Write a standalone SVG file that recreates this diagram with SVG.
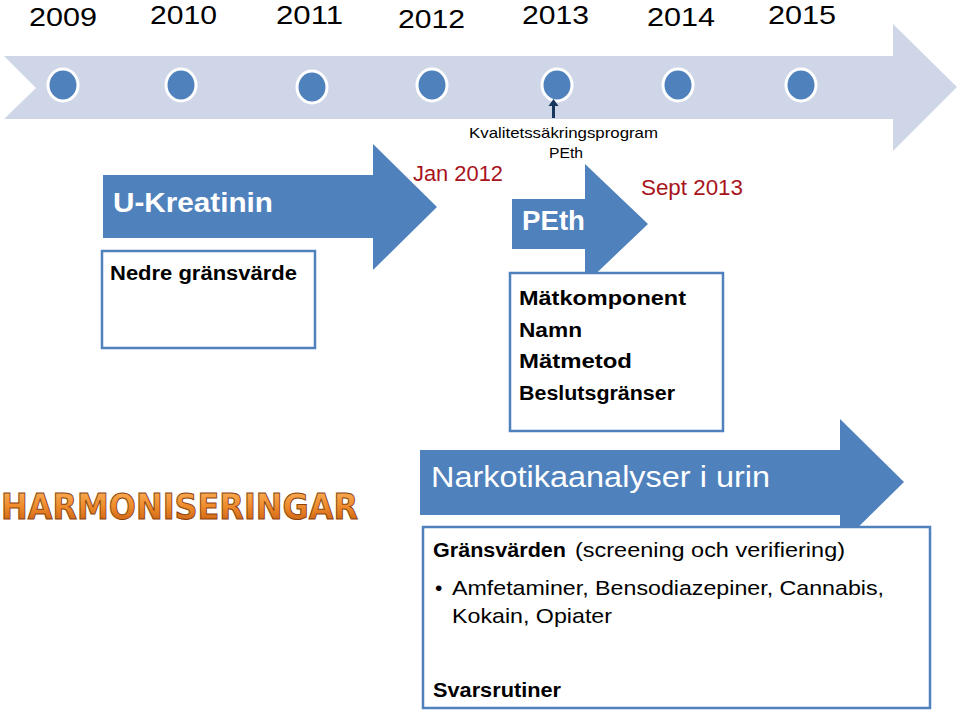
<svg xmlns="http://www.w3.org/2000/svg" width="960" height="712" viewBox="0 0 960 712">
<defs>
<style>
.yr{font-family:"Liberation Sans",Arial,sans-serif;font-size:26px;fill:#000}
.sm{font-family:"Liberation Sans",Arial,sans-serif;font-size:15px;fill:#000}
.red{font-family:"Liberation Sans",Arial,sans-serif;font-size:22px;fill:#a8141c}
.wb{font-family:"Liberation Sans",Arial,sans-serif;font-weight:bold;fill:#fff}
.w{font-family:"Liberation Sans",Arial,sans-serif;fill:#fff}
.bk{font-family:"Liberation Sans",Arial,sans-serif;font-weight:bold;fill:#000;font-size:20px}
.nk{font-family:"Liberation Sans",Arial,sans-serif;fill:#000;font-size:21px}
.arrow{fill:#4f81bd}
.box{fill:#fff;stroke:#4f81bd;stroke-width:2.5}
.dot{fill:#4f81bd;stroke:#fff;stroke-width:3}
</style>
<linearGradient id="og" x1="0" y1="0" x2="0" y2="1">
<stop offset="0" stop-color="#fcb45e"/>
<stop offset="0.5" stop-color="#ee8a2a"/>
<stop offset="1" stop-color="#c2560c"/>
</linearGradient>
</defs>

<g id="timeline">
<path d="M4,56 L893,56 L893,24 L957,87 L893,151 L893,119 L4,119 L36,88 Z" fill="#cfd6e8"/>
<ellipse class="dot" cx="63" cy="85" rx="15" ry="16"/>
<ellipse class="dot" cx="181" cy="85" rx="15" ry="16"/>
<ellipse class="dot" cx="312" cy="87" rx="15" ry="16"/>
<ellipse class="dot" cx="432" cy="85" rx="15" ry="16"/>
<ellipse class="dot" cx="557" cy="85" rx="15" ry="16"/>
<ellipse class="dot" cx="678" cy="85" rx="15" ry="16"/>
<ellipse class="dot" cx="801" cy="85" rx="15" ry="16"/>
<text class="yr" x="29" y="26" textLength="68" lengthAdjust="spacingAndGlyphs">2009</text>
<text class="yr" x="150" y="24" textLength="67" lengthAdjust="spacingAndGlyphs">2010</text>
<text class="yr" x="276" y="24" textLength="67" lengthAdjust="spacingAndGlyphs">2011</text>
<text class="yr" x="398" y="28" textLength="67" lengthAdjust="spacingAndGlyphs">2012</text>
<text class="yr" x="522" y="24" textLength="67" lengthAdjust="spacingAndGlyphs">2013</text>
<text class="yr" x="647" y="26" textLength="68" lengthAdjust="spacingAndGlyphs">2014</text>
<text class="yr" x="768" y="24" textLength="68" lengthAdjust="spacingAndGlyphs">2015</text>
</g>

<g id="connectors">
<path d="M552,118 L552,106 L548.5,106 L553.5,99 L558.5,106 L555,106 L555,118 Z" fill="#17375e"/>
</g>

<g id="kvalitet">
<text class="sm" x="469" y="138" textLength="189" lengthAdjust="spacingAndGlyphs">Kvalitetssäkringsprogram</text>
<text class="sm" x="549" y="158" textLength="34" lengthAdjust="spacingAndGlyphs">PEth</text>
</g>

<g id="jan2012">
<text class="red" x="413" y="181" textLength="90" lengthAdjust="spacingAndGlyphs">Jan 2012</text>
</g>
<g id="sept2013">
<text class="red" x="641" y="195" textLength="102" lengthAdjust="spacingAndGlyphs">Sept 2013</text>
</g>

<g id="ukreatinin">
<path class="arrow" d="M103,175 L373,175 L373,144 L437,207 L373,270 L373,238 L103,238 Z"/>
<text class="wb" x="113" y="212" font-size="28" textLength="160" lengthAdjust="spacingAndGlyphs">U-Kreatinin</text>
</g>
<g id="nedre">
<rect class="box" x="102" y="251" width="213" height="97"/>
<text class="bk" x="110" y="280" textLength="187" lengthAdjust="spacingAndGlyphs">Nedre gränsvärde</text>
</g>

<g id="peth">
<path class="arrow" d="M512,199 L585,199 L585,164 L648,224 L585,284 L585,249 L512,249 Z"/>
<text class="wb" x="522" y="230" font-size="27" textLength="63" lengthAdjust="spacingAndGlyphs">PEth</text>
</g>
<g id="matkomponent">
<rect class="box" x="510" y="273" width="213" height="158"/>
<text class="bk" x="519" y="305" textLength="167" lengthAdjust="spacingAndGlyphs">Mätkomponent</text>
<text class="bk" x="519" y="337" textLength="63" lengthAdjust="spacingAndGlyphs">Namn</text>
<text class="bk" x="519" y="368" textLength="113" lengthAdjust="spacingAndGlyphs">Mätmetod</text>
<text class="bk" x="519" y="400" textLength="156" lengthAdjust="spacingAndGlyphs">Beslutsgränser</text>
</g>

<g id="harmoniseringar">
<text x="1" y="519" font-family="'DejaVu Sans',sans-serif" font-weight="bold" font-size="35" fill="url(#og)" stroke="#8a4410" stroke-width="1" textLength="357" lengthAdjust="spacingAndGlyphs">HARMONISERINGAR</text>
</g>

<g id="narkotika">
<path class="arrow" d="M420,450 L840,450 L840,419 L904,482 L840,545 L840,515 L420,515 Z"/>
<text class="w" x="431" y="487" font-size="30" textLength="339" lengthAdjust="spacingAndGlyphs">Narkotikaanalyser i urin</text>
</g>
<g id="gransvarden">
<rect class="box" x="423" y="527" width="507" height="181"/>
<text class="bk" x="433" y="557" textLength="133" lengthAdjust="spacingAndGlyphs">Gränsvärden</text>
<text class="nk" x="575" y="557" textLength="270" lengthAdjust="spacingAndGlyphs">(screening och verifiering)</text>
<text class="nk" x="435" y="595">•</text>
<text class="nk" x="452" y="595" textLength="432" lengthAdjust="spacingAndGlyphs">Amfetaminer, Bensodiazepiner, Cannabis,</text>
<text class="nk" x="452" y="623" textLength="160" lengthAdjust="spacingAndGlyphs">Kokain, Opiater</text>
<text class="bk" x="433" y="697" textLength="128" lengthAdjust="spacingAndGlyphs">Svarsrutiner</text>
</g>
</svg>
